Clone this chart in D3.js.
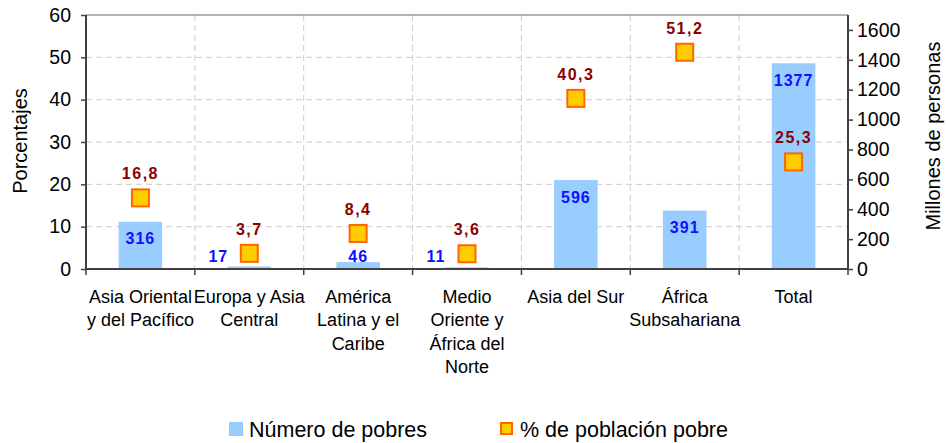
<!DOCTYPE html>
<html>
<head>
<meta charset="utf-8">
<script src="https://cdn.jsdelivr.net/npm/d3@7"></script>
<style>
body { margin: 0; background: #fff; }
text { font-family: "Liberation Sans", Arial, sans-serif; }
</style>
</head>
<body>
<div id="chart"></div>
<script>
var categories = [
	["Asia Oriental", "y del Pacífico"],
	["Europa y Asia", "Central"],
	["América", "Latina y el", "Caribe"],
	["Medio", "Oriente y", "África del", "Norte"],
	["Asia del Sur"],
	["África", "Subsahariana"],
	["Total"]
];
var pobres = [316, 17, 46, 11, 596, 391, 1377];
var porcentaje = [16.8, 3.7, 8.4, 3.6, 40.3, 51.2, 25.3];
var leftTicks = [0, 10, 20, 30, 40, 50, 60];
var rightTicks = [0, 200, 400, 600, 800, 1000, 1200, 1400, 1600];
var legendLabels = ["Número de pobres", "% de población pobre"];

var width = 946, height = 443;
var plot = { left: 86, right: 848, top: 15, bottom: 269 };
var fontFam = "'Liberation Sans', Arial, sans-serif";

var svg = d3.select("#chart").append("svg")
	.attr("width", width)
	.attr("height", height);

var locale = d3.formatLocale({ decimal: ",", thousands: ".", grouping: [3], currency: ["", ""] });
var fmtPct = locale.format(".1f");

var xScale = d3.scaleBand()
	.domain(d3.range(categories.length))
	.range([plot.left, plot.right])
	.paddingInner(0.6)
	.paddingOuter(0.3);
var step = xScale.step();
var center = i => xScale(i) + xScale.bandwidth() / 2;

var yLeft = d3.scaleLinear().domain([0, 60]).range([plot.bottom, plot.top]);
var yRight = d3.scaleLinear().domain([0, 1700]).range([plot.bottom, plot.top]);

// grid
var grid = svg.append("g");
grid.selectAll(".hgrid")
	.data(leftTicks.filter(t => t > 0 && t < 60))
	.enter().append("line")
	.attr("x1", plot.left).attr("x2", plot.right)
	.attr("y1", d => yLeft(d)).attr("y2", d => yLeft(d))
	.attr("stroke", "#cccccc").attr("stroke-dasharray", "6,4");
grid.selectAll(".vgrid")
	.data(d3.range(1, categories.length))
	.enter().append("line")
	.attr("x1", d => plot.left + d * step).attr("x2", d => plot.left + d * step)
	.attr("y1", plot.top).attr("y2", plot.bottom)
	.attr("stroke", "#cccccc").attr("stroke-dasharray", "6,4");
grid.append("line")
	.attr("x1", plot.left).attr("x2", plot.right)
	.attr("y1", plot.top).attr("y2", plot.top)
	.attr("stroke", "#9a9a9a").attr("stroke-width", 1.5);

// bars
svg.selectAll(".bar")
	.data(pobres)
	.enter().append("rect")
	.attr("x", (d, i) => xScale(i))
	.attr("width", xScale.bandwidth())
	.attr("y", d => yRight(d))
	.attr("height", d => plot.bottom - yRight(d))
	.attr("fill", "#99ccff");

// axes
var axisLeft = d3.axisLeft(yLeft).tickValues(leftTicks).tickSize(5).tickPadding(10);
var gl = svg.append("g").attr("transform", "translate(" + plot.left + ",0)").call(axisLeft);
var axisRight = d3.axisRight(yRight).tickValues(rightTicks).tickFormat(d3.format("d")).tickSize(5).tickPadding(4);
var gr = svg.append("g").attr("transform", "translate(" + plot.right + ",0)").call(axisRight);
[gl, gr].forEach(g => {
	g.select(".domain").attr("stroke", "#404040").attr("stroke-width", 2)
		.attr("d", "M0," + plot.top + "V" + plot.bottom);
	g.selectAll(".tick line").attr("stroke", "#404040").attr("stroke-width", 1.5);
	g.selectAll(".tick text").attr("fill", "#000").style("font-size", "19.5px")
		.style("font-family", fontFam);
});

var gx = svg.append("g");
gx.append("line")
	.attr("x1", plot.left).attr("x2", plot.right)
	.attr("y1", plot.bottom).attr("y2", plot.bottom)
	.attr("stroke", "#404040").attr("stroke-width", 2);
gx.selectAll(".xtick")
	.data(d3.range(0, categories.length + 1))
	.enter().append("line")
	.attr("x1", d => plot.left + d * step).attr("x2", d => plot.left + d * step)
	.attr("y1", plot.bottom).attr("y2", plot.bottom + 6)
	.attr("stroke", "#404040").attr("stroke-width", 1.5);

// category labels
categories.forEach((lines, i) => {
	var t = svg.append("text")
		.attr("x", center(i))
		.attr("y", 303)
		.attr("text-anchor", "middle")
		.style("font-size", "18px")
		.attr("fill", "#000");
	lines.forEach((l, j) => {
		t.append("tspan").attr("x", center(i)).attr("dy", j === 0 ? 0 : 23.3).text(l);
	});
});

// bar value labels
var barLabelY = d => Math.min(yRight(d) + 17, 256);
svg.selectAll(".barlabel")
	.data(pobres)
	.enter().append("text")
	.attr("x", (d, i) => Math.abs(yLeft(porcentaje[i]) - barLabelY(d)) < 15 ? center(i) - 31 : center(i))
	.attr("y", barLabelY)
	.attr("dy", "0.35em")
	.attr("text-anchor", "middle")
	.style("font-size", "16px")
	.style("font-weight", "bold")
	.style("letter-spacing", "1px")
	.attr("fill", "#1010ff")
	.text(d => d);

// markers
var ms = 17;
svg.selectAll(".marker")
	.data(porcentaje)
	.enter().append("rect")
	.attr("x", (d, i) => center(i) - ms / 2)
	.attr("y", d => yLeft(d) - ms / 2)
	.attr("width", ms).attr("height", ms)
	.attr("fill", "#ffcc00")
	.attr("stroke", "#ff6600")
	.attr("stroke-width", 2);

svg.selectAll(".pctlabel")
	.data(porcentaje)
	.enter().append("text")
	.attr("x", (d, i) => center(i))
	.attr("y", d => yLeft(d) - 24)
	.attr("dy", "0.35em")
	.attr("text-anchor", "middle")
	.style("font-size", "16px")
	.style("font-weight", "bold")
	.style("letter-spacing", "1.5px")
	.attr("fill", "#8b0000")
	.text(d => fmtPct(d));

// axis titles
svg.append("text")
	.attr("transform", "translate(27,141) rotate(-90)")
	.attr("text-anchor", "middle")
	.style("font-size", "20px")
	.text("Porcentajes");
svg.append("text")
	.attr("transform", "translate(940,136) rotate(-90)")
	.attr("text-anchor", "middle")
	.style("font-size", "20px")
	.text("Millones de personas");

// legend
var legend = svg.append("g");
legend.append("rect")
	.attr("x", 229).attr("y", 422).attr("width", 14).attr("height", 14)
	.attr("fill", "#99ccff");
legend.append("text")
	.attr("x", 249).attr("y", 429).attr("dy", "0.35em")
	.style("font-size", "21.5px")
	.text(legendLabels[0]);
legend.append("rect")
	.attr("x", 501).attr("y", 423).attr("width", 11).attr("height", 11)
	.attr("fill", "#ffcc00").attr("stroke", "#ff6600").attr("stroke-width", 2);
legend.append("text")
	.attr("x", 520).attr("y", 429).attr("dy", "0.35em")
	.style("font-size", "21.5px")
	.text(legendLabels[1]);
</script>
</body>
</html>
